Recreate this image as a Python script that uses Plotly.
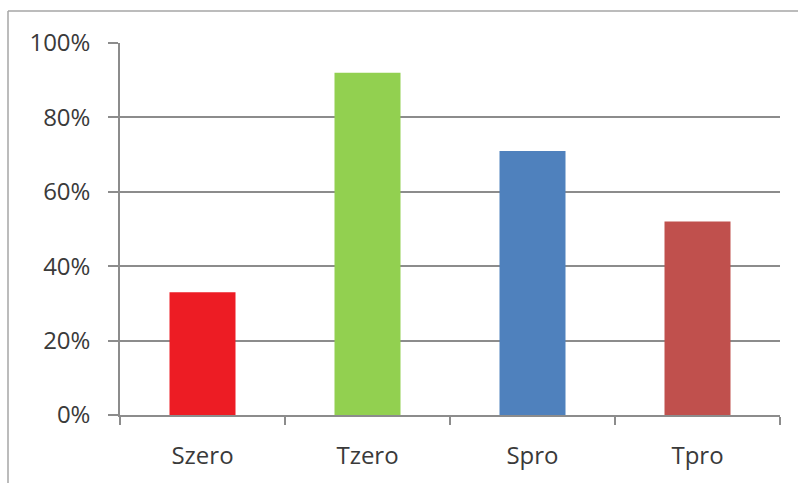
import plotly.graph_objects as go

categories = ["Szero", "Tzero", "Spro", "Tpro"]
values = [0.33, 0.92, 0.71, 0.52]
colors = ["#ED1C24", "#92D050", "#4F81BD", "#C0504D"]
y_ticks = [0, 0.2, 0.4, 0.6, 0.8, 1.0]
y_labels = ["0%", "20%", "40%", "60%", "80%", "100%"]

W, H = 798, 483
ml, mr, mt, mb = 120, 18, 43, 68
pw, ph = W - ml - mr, H - mt - mb

fig = go.Figure(go.Bar(x=categories, y=values, marker=dict(color=colors, line=dict(width=0)), width=0.4))

grid = "#8c8c8c"
font = dict(family="Open Sans, Liberation Sans, sans-serif", size=24, color="#3a3a3a")
fig.update_layout(
    width=W, height=H,
    margin=dict(l=ml, r=mr, t=mt, b=mb),
    paper_bgcolor="white", plot_bgcolor="white",
    showlegend=False, font=font,
    bargap=0.6,
)
fig.update_yaxes(range=[0, 1.0], tickvals=y_ticks, ticktext=y_labels, tickfont=font,
                 showgrid=True, gridcolor=grid, gridwidth=1.5,
                 showline=True, linecolor=grid, linewidth=1.5,
                 ticks="outside", ticklen=10, tickcolor=grid, tickwidth=1.5,
                 ticklabelstandoff=13, zeroline=False)
fig.update_xaxes(showline=True, linecolor=grid, linewidth=1.5, tickfont=font,
                 ticks="outside", tickson="boundaries", ticklen=8, tickcolor=grid, tickwidth=1.5,
                 ticklabelstandoff=18, showgrid=False)

fx = lambda px: (px - ml) / pw
fy = lambda py: 1 - (py - mt) / ph
frame = "#a6a6a6"
fig.add_shape(type="line", xref="paper", yref="paper", x0=fx(8), x1=fx(8), y0=fy(11), y1=fy(H + 5),
              line=dict(color=frame, width=1.5))
fig.add_shape(type="line", xref="paper", yref="paper", x0=fx(8), x1=fx(W + 5), y0=fy(11), y1=fy(11),
              line=dict(color=frame, width=1.5))

fig.write_html("out.html", config={"displayModeBar": False})

with open("out.html", encoding="utf-8") as f:
    html = f.read()
html = html.replace("<head>", "<head><style>html,body{margin:0;padding:0;overflow:hidden;}</style>", 1)
with open("out.html", "w", encoding="utf-8") as f:
    f.write(html)
